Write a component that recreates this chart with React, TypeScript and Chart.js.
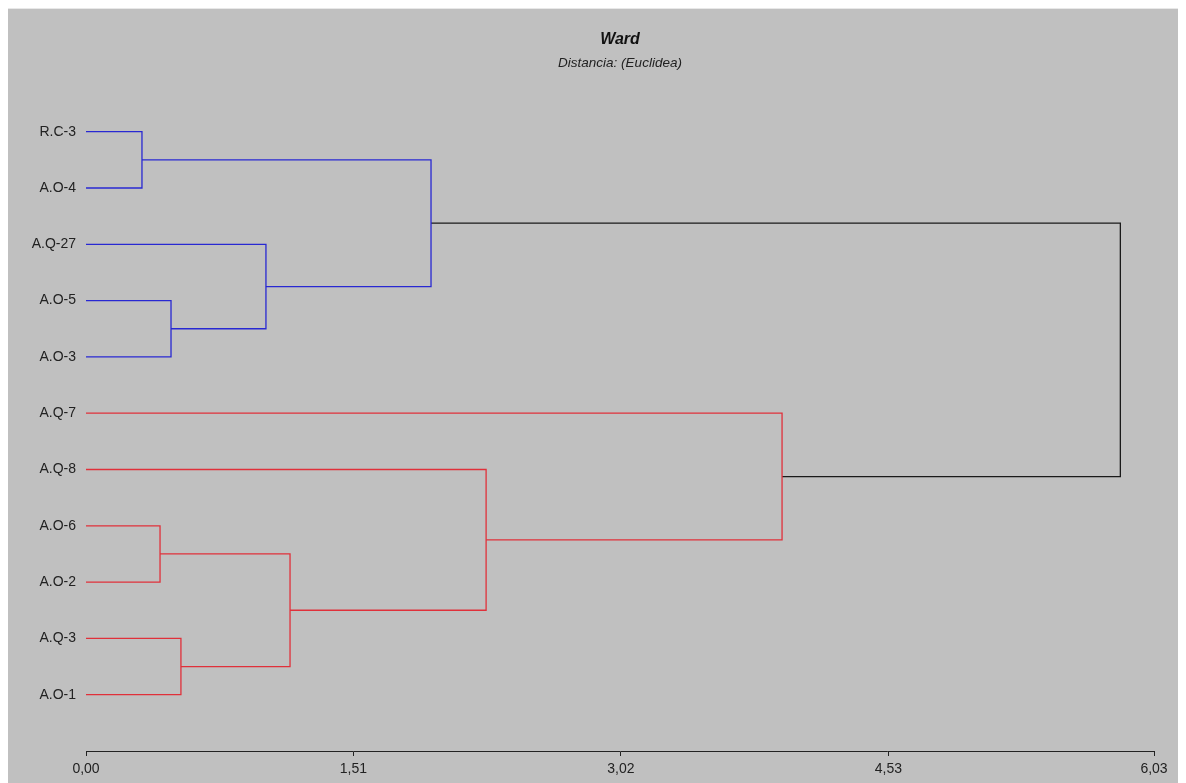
import React, { useEffect, useRef } from "react";
import { Chart, registerables } from "chart.js";

Chart.register(...registerables);

// ---- Data ----
const leafLabels = ["R.C-3", "A.O-4", "A.Q-27", "A.O-5", "A.O-3", "A.Q-7", "A.Q-8", "A.O-6", "A.O-2", "A.Q-3", "A.O-1"];
// merges: node ids 0..10 are leaves; merge k creates node 11 + k
const mergeLeft = [0, 3, 2, 11, 7, 9, 15, 6, 5, 14];
const mergeRight = [1, 4, 12, 13, 8, 10, 16, 17, 18, 19];
const mergeHeight = [0.316, 0.48, 1.016, 1.948, 0.418, 0.536, 1.152, 2.259, 3.93, 5.84];
const clusterRoots = [14, 19];
const xTickValues = [0, 1.51, 3.02, 4.53, 6.03];
const xTickLabels = ["0,00", "1,51", "3,02", "4,53", "6,03"];
const titleText = "Ward";
const subtitleText = "Distancia: (Euclidea)";

// ---- Styles ----
const clusterColors = ["#2828d2", "#e0303a"];
const rootColor = "#1a1a1a";
const FONT = "'Liberation Sans', Arial, sans-serif";

function buildDatasets() {
  const nLeaves = leafLabels.length;
  const nodeY: number[] = leafLabels.map((_, i) => i);
  const nodeH: number[] = leafLabels.map(() => 0);
  const children: Record<number, number[]> = {};
  mergeHeight.forEach((h, k) => {
    const id = nLeaves + k;
    const l = mergeLeft[k];
    const r = mergeRight[k];
    nodeY[id] = (nodeY[l] + nodeY[r]) / 2;
    nodeH[id] = h;
    children[id] = [l, r];
  });
  const color: Record<number, string> = {};
  const paint = (id: number, c: string) => {
    color[id] = c;
    (children[id] || []).forEach((ch) => paint(ch, c));
  };
  clusterRoots.forEach((root, i) => paint(root, clusterColors[i]));
  return mergeHeight.map((h, k) => {
    const id = nLeaves + k;
    const l = mergeLeft[k];
    const r = mergeRight[k];
    return {
      data: [
        { x: nodeH[l], y: nodeY[l] },
        { x: h, y: nodeY[l] },
        { x: h, y: nodeY[r] },
        { x: nodeH[r], y: nodeY[r] },
      ],
      showLine: true,
      borderColor: color[id] || rootColor,
      borderWidth: 1.3,
      pointRadius: 0,
      fill: false,
      tension: 0,
    };
  });
}

export default function App() {
  const ref = useRef<HTMLCanvasElement | null>(null);
  useEffect(() => {
    if (!ref.current) return;
    const chart = new Chart(ref.current, {
      type: "scatter",
      data: { datasets: buildDatasets() as any },
      options: {
        animation: false,
        responsive: false,
        maintainAspectRatio: false,
        layout: { padding: { top: 0, right: 26, bottom: 0, left: 0 } },
        plugins: {
          legend: { display: false },
          tooltip: { enabled: false },
          title: {
            display: true,
            text: titleText,
            fullSize: false,
            color: "#111",
            font: { family: FONT, size: 16, weight: "bold", style: "italic" },
            padding: { top: 21, bottom: 3 },
          },
          subtitle: {
            display: true,
            text: subtitleText,
            fullSize: false,
            color: "#222",
            font: { family: FONT, size: 13.5, style: "italic" },
            padding: { top: 3, bottom: 4 },
          },
        },
        scales: {
          x: {
            type: "linear",
            min: 0,
            max: 6.03,
            afterBuildTicks: (s: any) => {
              s.ticks = xTickValues.map((v) => ({ value: v }));
            },
            afterFit: (s: any) => {
              s.height = 32;
            },
            ticks: {
              autoSkip: false,
              maxRotation: 0,
              padding: 5,
              color: "#222",
              font: { family: FONT, size: 14 },
              callback: (v: any) => {
                const i = xTickValues.indexOf(Number(v));
                return i >= 0 ? xTickLabels[i] : "";
              },
            },
            grid: { drawOnChartArea: false, tickLength: 5, color: "#222", lineWidth: 1 },
            border: { display: true, color: "#222", width: 1 },
          },
          y: {
            type: "linear",
            reverse: true,
            min: -1,
            max: leafLabels.length,
            afterBuildTicks: (s: any) => {
              s.ticks = leafLabels.map((_, i) => ({ value: i }));
            },
            afterFit: (s: any) => {
              s.width = 78;
            },
            ticks: {
              autoSkip: false,
              padding: 10,
              color: "#222",
              font: { family: FONT, size: 14 },
              callback: (v: any) => leafLabels[Number(v)] ?? "",
            },
            grid: { display: false, drawTicks: false },
            border: { display: false },
          },
        },
      },
    });
    return () => chart.destroy();
  }, []);
  return (
    <div style={{ width: 1172, height: 775, background: "#c0c0c0", borderTop: "1px solid #e8e8e8", boxSizing: "border-box" }}>
      <canvas ref={ref} width={1172} height={774} style={{ display: "block" }} />
    </div>
  );
}
